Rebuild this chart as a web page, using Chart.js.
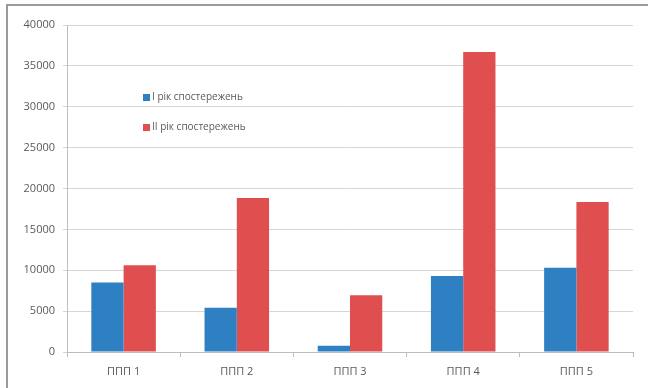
<!DOCTYPE html>
<html>
<head>
<meta charset="utf-8">
<script src="https://cdn.jsdelivr.net/npm/chart.js@4"></script>
<style>
  html, body { margin: 0; padding: 0; background: #fff; }
  #wrap { position: relative; width: 648px; height: 388px; }
  #frame { position: absolute; left: 6px; top: 4px; width: 660px; height: 400px;
           border-top: 2px solid #9a9a9a; border-left: 2px solid #9a9a9a; }
  canvas { position: absolute; left: 0; top: 0; }
</style>
</head>
<body>
<div id="wrap">
  <div id="frame"></div>
  <canvas id="c" width="648" height="388"></canvas>
</div>
<script>
const categories = ['ППП 1', 'ППП 2', 'ППП 3', 'ППП 4', 'ППП 5'];
const seriesNames = ['I рік спостережень', 'II рік спостережень'];
const year1 = [8500, 5400, 750, 9300, 10300];
const year2 = [10600, 18850, 6950, 36700, 18350];
const yTicks = [0, 5000, 10000, 15000, 20000, 25000, 30000, 35000, 40000];

const BLUE = '#2f7fc3';
const RED = '#e04f4f';
const TEXT = '#595959';
const FONT = "'Open Sans', 'Liberation Sans', sans-serif";

// Legend drawn inside the plot area, top-left
const innerLegend = {
  id: 'innerLegend',
  afterDraw(chart) {
    const ctx = chart.ctx;
    const x = chart.chartArea.left + 76;
    const ys = [97, 127];
    ctx.save();
    ctx.font = '10px ' + FONT;
    ctx.textBaseline = 'middle';
    chart.data.datasets.forEach((ds, i) => {
      ctx.fillStyle = ds.backgroundColor;
      ctx.fillRect(x, ys[i] - 3, 7, 7);
      ctx.fillStyle = TEXT;
      ctx.fillText(ds.label, x + 9, ys[i]);
    });
    ctx.restore();
  }
};

new Chart(document.getElementById('c'), {
  type: 'bar',
  data: {
    labels: categories,
    datasets: [
      { label: seriesNames[0], data: year1, backgroundColor: BLUE },
      { label: seriesNames[1], data: year2, backgroundColor: RED }
    ]
  },
  options: {
    responsive: false,
    animation: false,
    layout: { padding: { top: 25, right: 15, left: 0, bottom: 0 } },
    datasets: { bar: { categoryPercentage: 0.57, barPercentage: 1.0 } },
    plugins: { legend: { display: false }, tooltip: { enabled: false } },
    scales: {
      x: {
        grid: { offset: true, drawOnChartArea: false, color: '#bdbdbd', tickLength: 5 },
        border: { color: '#bdbdbd' },
        ticks: { color: TEXT, font: { family: FONT, size: 11 }, padding: 8 },
        afterFit(scale) { scale.height = 36; }
      },
      y: {
        min: 0, max: 40000,
        afterBuildTicks(scale) { scale.ticks = yTicks.map(v => ({ value: v })); },
        grid: { color: '#d6d6d6', tickLength: 4 },
        border: { color: '#bdbdbd' },
        ticks: { color: TEXT, font: { family: FONT, size: 11 }, padding: 8,
                 callback: v => String(v) },
        afterFit(scale) { scale.width = 67; }
      }
    }
  },
  plugins: [innerLegend]
});
</script>
</body>
</html>
